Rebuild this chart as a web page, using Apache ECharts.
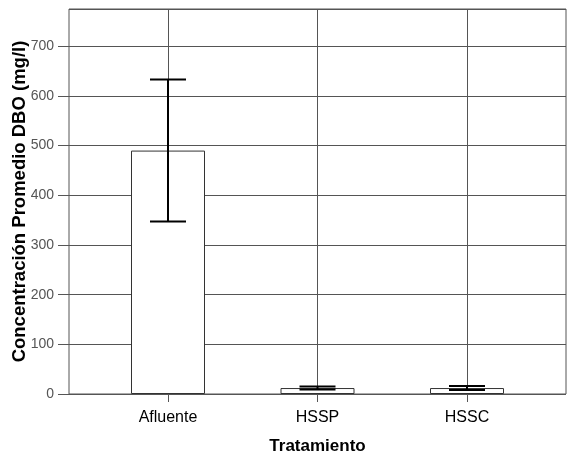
<!DOCTYPE html>
<html>
<head>
<meta charset="utf-8">
<script src="https://cdn.jsdelivr.net/npm/echarts@6/dist/echarts.min.js"></script>
<style>
  html, body { margin: 0; padding: 0; background: #fff; }
  #main { width: 567px; height: 456px; }
</style>
</head>
<body>
<div id="main"></div>
<script>
// datos
var tratamientos = ['Afluente', 'HSSP', 'HSSC'];
var promedios = [490, 12, 12];
var errorInf = [347, 9, 8];
var errorSup = [633, 15, 16];
var yMax = 775;

var myChart = echarts.init(document.getElementById('main'));

var lineColor = '#555';
var fuente = 'Liberation Sans, Arial, sans-serif';

option = {
    animation: false,
    grid: [
        // marco con el eje Y
        {left: 69, right: 1, top: 9, bottom: 62, outerBoundsMode: 'none', show: true, borderColor: lineColor, borderWidth: 1},
        // rejilla de las categorias
        {left: 168, right: 100, top: 9, bottom: 62, outerBoundsMode: 'none'}
    ],
    xAxis: [
        {gridIndex: 0, type: 'value', show: false, min: 0, max: 1},
        {
            gridIndex: 1,
            type: 'category',
            data: tratamientos,
            boundaryGap: false,
            axisLine: {show: false},
            axisTick: {show: true, length: 8, lineStyle: {color: lineColor}},
            splitLine: {show: true, lineStyle: {color: lineColor, width: 1}},
            axisLabel: {color: '#000', fontSize: 16, fontFamily: fuente, margin: 16},
            name: 'Tratamiento',
            nameLocation: 'middle',
            nameGap: 44,
            nameMoveOverlap: false,
            nameTextStyle: {color: '#000', fontSize: 17, fontWeight: 'bold', fontFamily: fuente}
        }
    ],
    yAxis: [
        {
            gridIndex: 0,
            type: 'value',
            min: 0,
            max: yMax,
            interval: 100,
            axisLine: {show: false},
            axisTick: {show: true, length: 11, lineStyle: {color: lineColor}},
            splitLine: {show: true, lineStyle: {color: lineColor, width: 1}},
            axisLabel: {color: '#555', fontSize: 14, fontFamily: fuente, margin: 15, showMaxLabel: false},
            name: 'Concentración Promedio DBO (mg/l)',
            nameLocation: 'middle',
            nameGap: 40,
            nameMoveOverlap: false,
            nameTextStyle: {color: '#000', fontSize: 18.5, fontWeight: 'bold', fontFamily: fuente}
        },
        {gridIndex: 1, type: 'value', show: false, min: 0, max: yMax}
    ],
    series: [
        {
            type: 'bar',
            xAxisIndex: 1,
            yAxisIndex: 1,
            data: promedios,
            barWidth: 74,
            clip: false,
            itemStyle: {color: '#fff', borderColor: '#333', borderWidth: 1}
        },
        {
            // barras de error
            type: 'custom',
            xAxisIndex: 1,
            yAxisIndex: 1,
            clip: false,
            data: tratamientos.map(function (t, i) { return [i, errorInf[i], errorSup[i]]; }),
            renderItem: function (params, api) {
                var lo = api.coord([api.value(0), api.value(1)]);
                var hi = api.coord([api.value(0), api.value(2)]);
                var w = 18;
                var st = {stroke: '#000', lineWidth: 2};
                return {
                    type: 'group',
                    children: [
                        {type: 'line', shape: {x1: lo[0], y1: lo[1], x2: hi[0], y2: hi[1]}, style: st},
                        {type: 'line', shape: {x1: lo[0] - w, y1: lo[1], x2: lo[0] + w, y2: lo[1]}, style: st},
                        {type: 'line', shape: {x1: hi[0] - w, y1: hi[1], x2: hi[0] + w, y2: hi[1]}, style: st}
                    ]
                };
            },
            z: 5
        }
    ]
};

myChart.setOption(option);
</script>
</body>
</html>
